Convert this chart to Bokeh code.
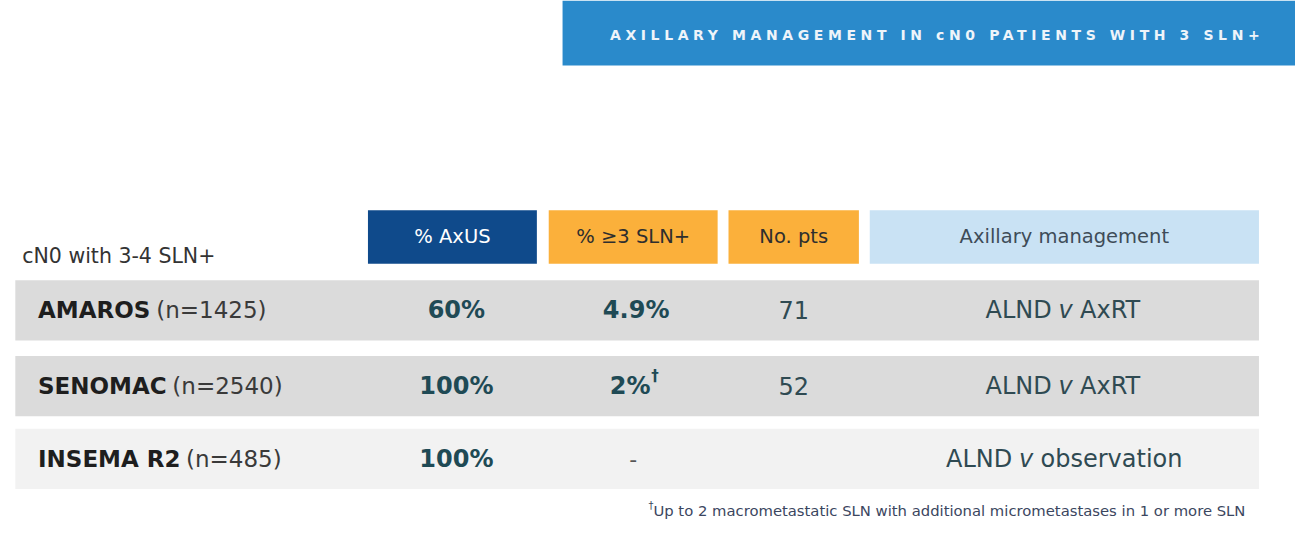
from bokeh.plotting import figure
from bokeh.models import Range1d, ColumnDataSource
from bokeh.layouts import column
from bokeh.core.properties import value
from bokeh.embed import file_html
from bokeh.resources import INLINE

# ---------------- data ----------------
title = "AXILLARY MANAGEMENT IN cN0 PATIENTS WITH 3 SLN+"
group_label = "cN0 with 3-4 SLN+"
headers = ["% AxUS", "% \u22653 SLN+", "No. pts", "Axillary management"]
trials = ["AMAROS", "SENOMAC", "INSEMA R2"]
n_patients = [1425, 2540, 485]
axus_pct = ["60%", "100%", "100%"]
sln3_pct = ["4.9%", "2%", "-"]
sln3_mark = ["", "\u2020", ""]
n_sln3 = ["71", "52", ""]
arm_a = ["ALND", "ALND", "ALND"]
arm_b = ["AxRT", "AxRT", "observation"]
footnote_mark = "\u2020"
footnote = "Up to 2 macrometastatic SLN with additional micrometastases in 1 or more SLN"

# ---------------- styles / layout ----------------
FONT = value("DejaVu Sans")
BANNER = "#2A8ACB"
HDR_FILL = ["#0F4A8B", "#FBB03B", "#FBB03B", "#C9E2F4"]
HDR_TEXT = ["#FFFFFF", "#2E2E2E", "#2E2E2E", "#3E4C58"]
ROW_FILL = ["#DBDBDB", "#DBDBDB", "#F2F2F2"]
VAL_BOLD = "#1F4A55"
VAL_REG = "#2F4A52"

col_left = [372, 555, 737, 880]
col_right = [543, 726, 869, 1274]
col_mid = [(a + b) / 2 for a, b in zip(col_left, col_right)]
hdr_top, hdr_bot = 216, 271
row_top = [288, 366, 441]
row_h = 62
row_left, row_right = 15, 1274
row_mid = [t + row_h / 2 for t in row_top]

W_REG = {" ": .318, "(": .390, ")": .390, "=": .838, "+": .838, "-": .361, "%": .950,
         ".": .318, "A": .684, "D": .770, "L": .557, "N": .748, "R": .695, "S": .635,
         "T": .611, "U": .732, "x": .592, "v": .592, "a": .613, "b": .635, "e": .615,
         "i": .278, "n": .634, "o": .612, "r": .411, "s": .521, "t": .392}
for d in "0123456789":
    W_REG[d] = .636
W_BOLD = {" ": .348, "%": 1.002, ".": .380, "A": .774, "C": .734, "E": .683, "I": .372,
          "M": .995, "N": .837, "O": .850, "R": .770, "S": .720}
for d in "0123456789":
    W_BOLD[d] = .696


def tw(s, size, bold=False):
    tab = W_BOLD if bold else W_REG
    return size * sum(tab.get(c, W_REG.get(c, 0.6)) for c in s)


W_PX, H_PX = 1295, 539
REF_W, REF_H = 1311, 555
SPLIT = 69  # reference y where the banner strip ends


def base_fig(y0, y1):
    h = round(H_PX * (y1 - y0) / REF_H)
    f = figure(width=W_PX, height=h, x_range=Range1d(0, REF_W), y_range=Range1d(y1, y0),
               output_backend="svg", toolbar_location=None, x_axis_type=None,
               y_axis_type=None, min_border=0, outline_line_color=None,
               background_fill_color="white", border_fill_color="white")
    f.grid.visible = False
    return f


# ---------------- banner ----------------
pb = base_fig(0, SPLIT)
pb.styles = {"letter-spacing": "4.6px"}
pb.quad(left=[569], right=[1311], top=[0], bottom=[67], fill_color=BANNER, line_color=None)
pb.text(x=[617], y=[35.5], text=[title], text_font=FONT, text_font_size="14px",
        text_font_style="bold", text_color="#EEF4FA", text_align="left",
        text_baseline="middle")

# ---------------- table ----------------
p = base_fig(SPLIT, REF_H)

# header boxes
p.quad(source=ColumnDataSource(dict(l=col_left, r=col_right, t=[hdr_top] * 4,
                                    b=[hdr_bot] * 4, c=HDR_FILL)),
       left="l", right="r", top="t", bottom="b", fill_color="c", line_color=None)
p.text(x=col_mid, y=[243.5] * 4, text=headers, text_color=HDR_TEXT, text_font=FONT,
       text_font_size="19.5px", text_align="center", text_baseline="middle")
p.text(x=[22], y=[263], text=[group_label], text_color="#333333", text_font=FONT,
       text_font_size="20.5px", text_align="left", text_baseline="middle")

# row bands
p.quad(source=ColumnDataSource(dict(t=row_top, b=[t + row_h for t in row_top], c=ROW_FILL)),
       left=row_left, right=row_right, top="t", bottom="b", fill_color="c", line_color=None)

# row labels
lab_x = 38
n_txt = ["(n=%d)" % n for n in n_patients]
n_x = [lab_x + tw(t, 23, True) + tw(" ", 23) for t in trials]
p.text(x=[lab_x] * 3, y=row_mid, text=trials, text_color="#1E1E1E", text_font=FONT,
       text_font_size="23px", text_font_style="bold", text_align="left",
       text_baseline="middle")
p.text(x=n_x, y=row_mid, text=n_txt, text_color="#3A3A3A", text_font=FONT,
       text_font_size="23px", text_align="left", text_baseline="middle")

# % AxUS
p.text(x=[col_mid[0] + 4] * 3, y=row_mid, text=axus_pct, text_color=VAL_BOLD, text_font=FONT,
       text_font_size="24px", text_font_style="bold", text_align="center",
       text_baseline="middle")

# % >=3 SLN+
pct_x = [col_mid[1] + (3 if not m else -3) for m in sln3_mark]
bold_idx = [i for i, s in enumerate(sln3_pct) if s != "-"]
p.text(x=[pct_x[i] for i in bold_idx], y=[row_mid[i] for i in bold_idx],
       text=[sln3_pct[i] for i in bold_idx], text_color=VAL_BOLD, text_font=FONT,
       text_font_size="24px", text_font_style="bold", text_align="center",
       text_baseline="middle")
dash_idx = [i for i, s in enumerate(sln3_pct) if s == "-"]
p.text(x=[col_mid[1]] * len(dash_idx), y=[row_mid[i] for i in dash_idx],
       text=[sln3_pct[i] for i in dash_idx], text_color="#555555", text_font=FONT,
       text_font_size="22px", text_align="center", text_baseline="middle")
mark_idx = [i for i, s in enumerate(sln3_mark) if s]
p.text(x=[pct_x[i] + tw(sln3_pct[i], 24, True) / 2 + 1 for i in mark_idx],
       y=[row_mid[i] - 10 for i in mark_idx], text=[sln3_mark[i] for i in mark_idx],
       text_color=VAL_BOLD, text_font=FONT, text_font_size="15px", text_font_style="bold",
       text_align="left", text_baseline="middle")

# No. pts
p.text(x=[col_mid[2]] * 3, y=row_mid, text=n_sln3, text_color=VAL_REG, text_font=FONT,
       text_font_size="24px", text_align="center", text_baseline="middle")

# Axillary management: "ALND v X" with italic v
fs = 24
sp = tw(" ", fs)
starts, vx, bx = [], [], []
for a, b in zip(arm_a, arm_b):
    total = tw(a, fs) + sp + tw("v", fs) + sp + tw(b, fs)
    s0 = col_mid[3] - 1 - total / 2
    starts.append(s0)
    vx.append(s0 + tw(a, fs) + sp)
    bx.append(s0 + tw(a, fs) + sp + tw("v", fs) + sp)
p.text(x=starts, y=row_mid, text=arm_a, text_color=VAL_REG, text_font=FONT,
       text_font_size="24px", text_align="left", text_baseline="middle")
p.text(x=vx, y=row_mid, text=["v"] * 3, text_color=VAL_REG, text_font=FONT,
       text_font_size="24px", text_font_style="italic", text_align="left",
       text_baseline="middle")
p.text(x=bx, y=row_mid, text=arm_b, text_color=VAL_REG, text_font=FONT,
       text_font_size="24px", text_align="left", text_baseline="middle")

# footnote
p.text(x=[656], y=[520], text=[footnote_mark], text_color="#3B4660", text_font=FONT,
       text_font_size="10px", text_align="left", text_baseline="middle")
p.text(x=[661], y=[525], text=[footnote], text_color="#3B4660", text_font=FONT,
       text_font_size="14.8px", text_align="left", text_baseline="middle")

layout = column(pb, p, spacing=0)
open("out.html", "w").write(file_html(layout, INLINE))
